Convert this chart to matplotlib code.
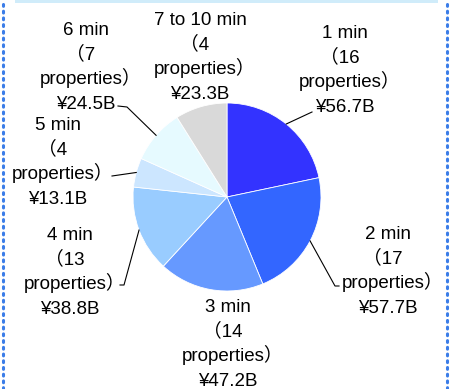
import numpy as np
import matplotlib
matplotlib.use("Agg")
import matplotlib.pyplot as plt
from matplotlib.lines import Line2D
from matplotlib.patches import Rectangle

# data
categories = ["1 min", "2 min", "3 min", "4 min", "5 min", "6 min", "7 to 10 min"]
properties = [16, 17, 14, 13, 4, 7, 4]
values = [56.7, 57.7, 47.2, 38.8, 13.1, 24.5, 23.3]  # billion yen
colors = ["#3333FF", "#3366FF", "#6699FF", "#99CCFF", "#CCE6FF", "#E6FAFF", "#D9D9D9"]

W, H = 451, 389
FONT = ["Liberation Sans", "Noto Sans CJK JP", "DejaVu Sans"]
FS = 13.5
STEP = 24.8      # px between label lines
PAREN_SHIFT = 5  # fullwidth parens carry blank space on one side


def py(y):
    # pixel row (from top) -> data y
    return H - y


fig = plt.figure(figsize=(W / 100, H / 100), dpi=100)
ax = fig.add_axes([0, 0, 1, 1])

cx, cy, r = 227, 197, 94
wedges, _ = ax.pie(values, colors=colors, startangle=90, counterclock=False,
                   center=(cx, py(cy)), radius=r,
                   wedgeprops=dict(edgecolor="white", linewidth=0.6))
ax.set_xlim(0, W)
ax.set_ylim(0, H)
ax.axis("off")

# label x centre and first line y (px), leader points from label side (px)
label_pos = [(345, 31), (388, 232), (228, 305), (70, 233), (58, 123), (86, 28), (200, 18)]
leaders = [
    [(312, 112)],
    [(339, 286), (335, 286)],
    None,
    [(120, 285), (124, 285)],
    [(112, 176)],
    [(118, 106), (127, 107)],
    None,
]

for i, w in enumerate(wedges):
    lines = [categories[i], f"（{properties[i]}", "properties）", f"¥{values[i]}B"]
    shifts = [0, -PAREN_SHIFT, PAREN_SHIFT, 0]
    lx, ly = label_pos[i]
    for k, (s, dx) in enumerate(zip(lines, shifts)):
        ax.text(lx + dx, py(ly + k * STEP + 6.5), s, ha="center", va="baseline",
                fontsize=FS, family=FONT, color="#000000")
    if leaders[i]:
        mid = np.deg2rad((w.theta1 + w.theta2) / 2)
        ex, ey = cx + r * np.cos(mid), py(cy) + r * np.sin(mid)
        pts = [(x, py(y)) for x, y in leaders[i]] + [(ex, ey)]
        ax.plot([p[0] for p in pts], [p[1] for p in pts], color="#000000", lw=0.8)

# frame: light blue strip on top and dotted blue sides
ax.add_patch(Rectangle((15, py(3)), 423, 3, color="#D0ECFA", lw=0))
for x in (3, 447):
    ax.add_line(Line2D([x, x], [0, H], color="#3B7DE8", lw=2.2,
                       linestyle=(0, (0.6, 1.6)), dash_capstyle="round"))

fig.savefig("out.png", dpi=100)
